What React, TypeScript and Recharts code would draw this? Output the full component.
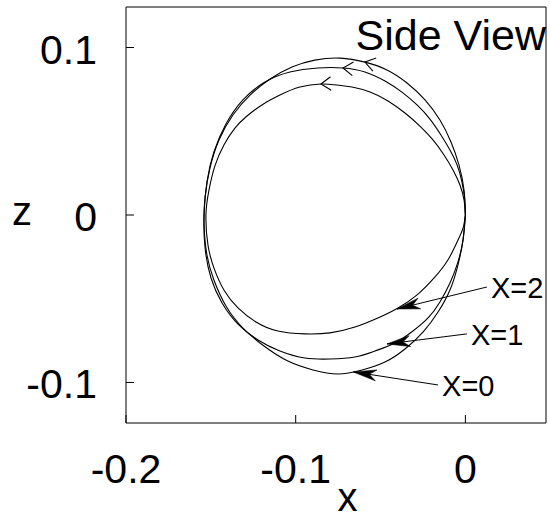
import React from 'react';
import { LineChart, Line, XAxis, YAxis, ReferenceArea, Label } from 'recharts';

// axis ranges (x horizontal, z vertical)
const X_MIN = -0.2;
const X_MAX = 0.0475;
const Z_MIN = -0.1242;
const Z_MAX = 0.1242;

const xTicks = [-0.2, -0.1, 0];
const xTickText = ['-0.2', '-0.1', '0'];
const zTicks = [-0.1, 0, 0.1];
const zTickText = ['-0.1', '0', '0.1'];

// orbit traces [x, z], starting and ending at the origin
const orbitX0: [number, number][] = [
  [0, 0], [-0.0008, 0.0149], [-0.0038, 0.0299], [-0.0085, 0.0436], [-0.015, 0.0567],
  [-0.0238, 0.0687], [-0.0344, 0.0788], [-0.0462, 0.0866], [-0.0592, 0.0913], [-0.0739, 0.0937],
  [-0.0887, 0.0925], [-0.1022, 0.0884], [-0.1151, 0.0812], [-0.1269, 0.0716], [-0.137, 0.0597],
  [-0.1452, 0.0448], [-0.1505, 0.0281], [-0.1534, 0.0107], [-0.154, -0.006], [-0.1523, -0.0239],
  [-0.1482, -0.0388], [-0.1411, -0.0543], [-0.1311, -0.0675], [-0.1187, -0.0782], [-0.1046, -0.0872],
  [-0.0898, -0.0925], [-0.0751, -0.0949], [-0.0609, -0.0925], [-0.0474, -0.0878], [-0.0356, -0.08],
  [-0.025, -0.0699], [-0.0161, -0.0579], [-0.0091, -0.0448], [-0.0044, -0.0299], [-0.0014, -0.0149],
  [0, 0],
];

const orbitX1: [number, number][] = [
  [0, 0], [-0.0005, 0.0101], [-0.002, 0.0197], [-0.0049, 0.0299], [-0.0091, 0.0388],
  [-0.0144, 0.0478], [-0.0209, 0.0573], [-0.0285, 0.0657], [-0.0374, 0.0734], [-0.0474, 0.08],
  [-0.0592, 0.0854], [-0.0721, 0.0878], [-0.0869, 0.0878], [-0.1034, 0.0854], [-0.1181, 0.0794],
  [-0.1311, 0.0687], [-0.1411, 0.0543], [-0.1482, 0.0376], [-0.1523, 0.0197], [-0.154, 0],
  [-0.1534, -0.0197], [-0.1499, -0.0376], [-0.1434, -0.0525], [-0.134, -0.0651], [-0.1222, -0.0746],
  [-0.1093, -0.0812], [-0.0945, -0.0854], [-0.0798, -0.086], [-0.0651, -0.0848], [-0.0533, -0.0812],
  [-0.0415, -0.0764], [-0.0309, -0.0693], [-0.022, -0.0615], [-0.015, -0.0519], [-0.0091, -0.0406],
  [-0.0044, -0.0281], [-0.0014, -0.0149], [0, 0],
];

const orbitX2: [number, number][] = [
  [0, 0], [-0.0008, 0.009], [-0.0032, 0.0179], [-0.0073, 0.0269], [-0.0126, 0.0358],
  [-0.0191, 0.0448], [-0.0268, 0.0531], [-0.0356, 0.0609], [-0.0456, 0.0681], [-0.0562, 0.0734],
  [-0.0668, 0.0764], [-0.0756, 0.0776], [-0.0851, 0.0782], [-0.0975, 0.0764], [-0.1093, 0.0716],
  [-0.1199, 0.0657], [-0.1287, 0.0591], [-0.1358, 0.0519], [-0.1423, 0.0418], [-0.1476, 0.0293],
  [-0.1511, 0.0149], [-0.1529, 0], [-0.1517, -0.0179], [-0.1482, -0.0316], [-0.1423, -0.0448],
  [-0.134, -0.0555], [-0.1234, -0.0639], [-0.1105, -0.0693], [-0.0945, -0.071], [-0.0798, -0.0704],
  [-0.0651, -0.0669], [-0.0516, -0.0615], [-0.0397, -0.0555], [-0.0279, -0.0472], [-0.0179, -0.037],
  [-0.0103, -0.0269], [-0.0049, -0.0161], [-0.0014, -0.0078], [0, 0],
];

const orbits = [orbitX0, orbitX1, orbitX2];
const orbitNames = ['X=0', 'X=1', 'X=2'];
// point on each orbit that carries the direction chevron
const chevronIndex = [8, 11, 12];
// callout arrows: tip sits on the orbit, tail next to its name
const calloutTip: [number, number][] = [[-0.066, -0.0937], [-0.0462, -0.077], [-0.0403, -0.0561]];
const calloutTail: [number, number][] = [[-0.0161, -0.1015], [0.0009, -0.071], [0.0127, -0.043]];

const WIDTH = 550;
const HEIGHT = 518;
const MARGIN = { top: 7, right: 4, bottom: 7, left: 6 };
const Y_AXIS_W = 120;
const X_AXIS_H = 88;
// pixels per data unit, used only to orient arrowheads
const SX = (WIDTH - MARGIN.left - MARGIN.right - Y_AXIS_W) / (X_MAX - X_MIN);
const SZ = (HEIGHT - MARGIN.top - MARGIN.bottom - X_AXIS_H) / (Z_MAX - Z_MIN);

const FONT = '"Liberation Sans", Arial, Helvetica, sans-serif';
const TICK_FONT = 41;

const XTick = (props: any) => {
  const { x, y, payload } = props;
  const label = xTickText[xTicks.indexOf(payload.value)];
  return (
    <g>
      <line x1={x} x2={x} y1={y} y2={y - 8} stroke="#000" />
      <text x={x} y={y + 60} textAnchor="middle" fontSize={TICK_FONT} fontFamily={FONT} fill="#000">
        {label}
      </text>
    </g>
  );
};

const ZTick = (props: any) => {
  const { x, y, payload } = props;
  const label = zTickText[zTicks.indexOf(payload.value)];
  return (
    <g>
      <line x1={x} x2={x + 8} y1={y} y2={y} stroke="#000" />
      <text x={x - 29} y={y + 16} textAnchor="end" fontSize={TICK_FONT} fontFamily={FONT} fill="#000">
        {label}
      </text>
    </g>
  );
};

// open "<" chevron showing the direction of travel
const chevronDot = (pts: [number, number][], at: number) => (props: any) => {
  const { cx, cy, index } = props;
  if (index !== at) return <g key={`c-${index}`} />;
  const [xa, za] = pts[at - 1];
  const [xb, zb] = pts[at + 1];
  const ang = Math.atan2(-(zb - za) * SZ, (xb - xa) * SX) + Math.PI;
  const L = 12;
  const s = 0.6;
  const p1 = [cx + L * Math.cos(ang - s), cy + L * Math.sin(ang - s)];
  const p2 = [cx + L * Math.cos(ang + s), cy + L * Math.sin(ang + s)];
  return (
    <path
      key={`c-${index}`}
      d={`M${p1[0]},${p1[1]} L${cx},${cy} L${p2[0]},${p2[1]}`}
      fill="none"
      stroke="#000"
      strokeWidth={1.1}
    />
  );
};

// filled arrowhead at the tip, name at the tail
const calloutDot = (i: number) => (props: any) => {
  const { cx, cy, index } = props;
  if (index === 1) {
    return (
      <text key={`t-${i}`} x={cx + 4} y={cy + 1} dominantBaseline="central" fontSize={29} fontFamily={FONT} fill="#000">
        {orbitNames[i]}
      </text>
    );
  }
  const dx = (calloutTail[i][0] - calloutTip[i][0]) * SX;
  const dy = -(calloutTail[i][1] - calloutTip[i][1]) * SZ;
  const len = Math.hypot(dx, dy);
  const ux = dx / len;
  const uy = dy / len;
  const L = 23;
  const W = 5.5;
  const N = 16;
  const bx = cx + ux * L;
  const by = cy + uy * L;
  const d = `M${cx},${cy} L${bx - uy * W},${by + ux * W} L${cx + ux * N},${cy + uy * N} L${bx + uy * W},${by - ux * W} Z`;
  return <path key={`h-${i}`} d={d} fill="#000" stroke="#000" strokeWidth={0.6} />;
};

export default function App() {
  const orbitData = orbits.map((o) => o.map(([x, z]) => ({ x, z })));
  const calloutData = calloutTip.map((tip, i) => [
    { x: tip[0], z: tip[1] },
    { x: calloutTail[i][0], z: calloutTail[i][1] },
  ]);

  return (
    <div style={{ position: 'absolute', left: 0, top: 0, width: WIDTH, height: HEIGHT, background: '#fff' }}>
      <LineChart width={WIDTH} height={HEIGHT} margin={MARGIN}>
        <XAxis
          dataKey="x"
          type="number"
          domain={[X_MIN, X_MAX]}
          ticks={xTicks}
          interval={0}
          allowDataOverflow
          height={X_AXIS_H}
          tickSize={0}
          tickMargin={0}
          axisLine={false}
          tickLine={false}
          tick={<XTick />}
        >
          <Label
            content={(p: any) => (
              <text x={p.viewBox.x + 221.5} y={p.viewBox.y + 88} textAnchor="middle" fontSize={40} fontFamily={FONT} fill="#000">
                x
              </text>
            )}
          />
        </XAxis>
        <YAxis
          dataKey="z"
          type="number"
          domain={[Z_MIN, Z_MAX]}
          ticks={zTicks}
          interval={0}
          allowDataOverflow
          width={Y_AXIS_W}
          tickSize={0}
          tickMargin={0}
          axisLine={false}
          tickLine={false}
          tick={<ZTick />}
        >
          <Label
            content={(p: any) => (
              <text x={p.viewBox.x + 16} y={p.viewBox.y + 218} textAnchor="middle" fontSize={40} fontFamily={FONT} fill="#000">
                z
              </text>
            )}
          />
        </YAxis>
        <ReferenceArea
          x1={X_MIN}
          x2={X_MAX}
          y1={Z_MIN}
          y2={Z_MAX}
          fill="none"
          stroke="#000"
          strokeWidth={1}
          label={(p: any) => (
            <text
              x={p.viewBox.x + p.viewBox.width}
              y={p.viewBox.y + 43}
              textAnchor="end"
              fontSize={43}
              fontFamily={FONT}
              fill="#000"
            >
              Side View
            </text>
          )}
        />
        {orbitData.map((d, i) => (
          <Line
            key={orbitNames[i]}
            data={d}
            dataKey="z"
            type="natural"
            stroke="#000"
            strokeWidth={1.1}
            dot={chevronDot(orbits[i], chevronIndex[i])}
            activeDot={false}
            isAnimationActive={false}
          />
        ))}
        {calloutData.map((d, i) => (
          <Line
            key={`callout-${orbitNames[i]}`}
            data={d}
            dataKey="z"
            type="linear"
            stroke="#000"
            strokeWidth={1}
            dot={calloutDot(i)}
            activeDot={false}
            isAnimationActive={false}
          />
        ))}
      </LineChart>
    </div>
  );
}
